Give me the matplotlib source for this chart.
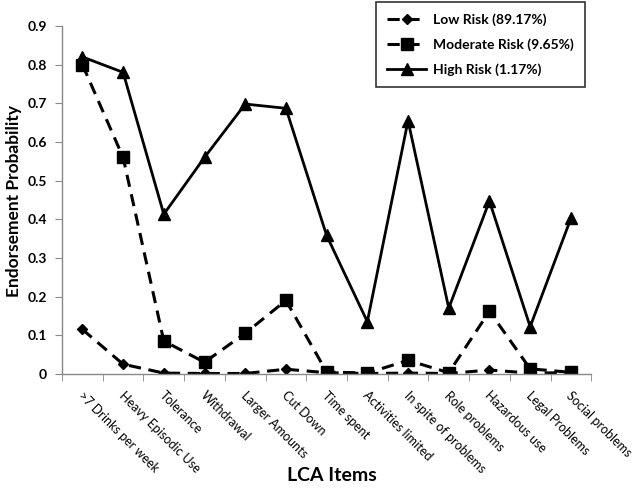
import matplotlib
matplotlib.use("Agg")
import matplotlib.pyplot as plt
import matplotlib.transforms as mtransforms
import numpy as np

categories = [">7 Drinks per week", "Heavy Episodic Use", "Tolerance", "Withdrawal",
              "Larger Amounts", "Cut Down", "Time spent", "Activities limited",
              "In spite of problems", "Role problems", "Hazardous use",
              "Legal Problems", "Social problems"]
low_risk = [0.115, 0.025, 0.002, 0.001, 0.001, 0.012, 0.003, 0.001, 0.002, 0.001, 0.010, 0.002, 0.003]
moderate_risk = [0.80, 0.56, 0.085, 0.030, 0.105, 0.190, 0.005, 0.002, 0.035, 0.003, 0.162, 0.013, 0.004]
high_risk = [0.82, 0.78, 0.413, 0.560, 0.698, 0.687, 0.358, 0.135, 0.655, 0.170, 0.447, 0.122, 0.402]
series_labels = ["Low Risk (89.17%)", "Moderate Risk (9.65%)", "High Risk (1.17%)"]
yticks = [0, 0.1, 0.2, 0.3, 0.4, 0.5, 0.6, 0.7, 0.8, 0.9]
ytick_labels = ["0", "0.1", "0.2", "0.3", "0.4", "0.5", "0.6", "0.7", "0.8", "0.9"]

plt.rcParams['font.family'] = ['Lato', 'DejaVu Sans']

fig = plt.figure(figsize=(6.33, 4.9), dpi=100)
ax = fig.add_axes([0.098, 0.237, 0.836, 0.71])

x = np.arange(len(categories))
ax.plot(x, low_risk, color='black', linestyle=(0, (4, 2.5)), linewidth=2.2,
        marker='D', markersize=5.5, label=series_labels[0])
ax.plot(x, moderate_risk, color='black', linestyle=(0, (4, 2.5)), linewidth=2.2,
        marker='s', markersize=8, label=series_labels[1])
ax.plot(x, high_risk, color='black', linestyle='-', linewidth=2.0,
        marker='^', markersize=8, label=series_labels[2])

ax.set_xlim(-0.5, len(categories) - 0.5)
ax.set_ylim(0, 0.9)
ax.set_yticks(yticks)
ax.set_yticklabels(ytick_labels, fontsize=10, fontweight='bold')
ax.set_xticks(x)
ax.set_xticklabels(categories, rotation=-45, ha='left', va='top',
                   rotation_mode='anchor', fontsize=9, fontweight='normal')
ax.tick_params(axis='x', which='major', length=0, pad=11)
offset = mtransforms.ScaledTranslation(2 / 100, 0, fig.dpi_scale_trans)
for lbl in ax.get_xticklabels():
    lbl.set_transform(lbl.get_transform() + offset)
ax.set_xticks(np.arange(-0.5, len(categories)), minor=True)
ax.tick_params(axis='x', which='minor', length=5, color='#888888', direction='out')
ax.tick_params(axis='y', length=5, color='#888888', direction='out', pad=6)

for s in ['top', 'right']:
    ax.spines[s].set_visible(False)
for s in ['left', 'bottom']:
    ax.spines[s].set_color('#888888')
    ax.spines[s].set_linewidth(1.0)

fig.text(0.022, 0.59, "Endorsement Probability", rotation=90, ha='center', va='center',
         fontsize=12.5, fontweight='bold')
fig.text(0.525, 0.012, "LCA Items", ha='center', va='bottom', fontsize=14, fontweight='bold')

leg = ax.legend(loc='upper left', bbox_to_anchor=(0.594, 1.069), frameon=True, fancybox=False,
                edgecolor='black', handlelength=2.8, handletextpad=0.5, labelspacing=0.9,
                borderpad=0.8, borderaxespad=0, prop={'weight': 'bold', 'size': 10})
leg.get_frame().set_linewidth(1.2)

fig.savefig("out.png", dpi=100)
